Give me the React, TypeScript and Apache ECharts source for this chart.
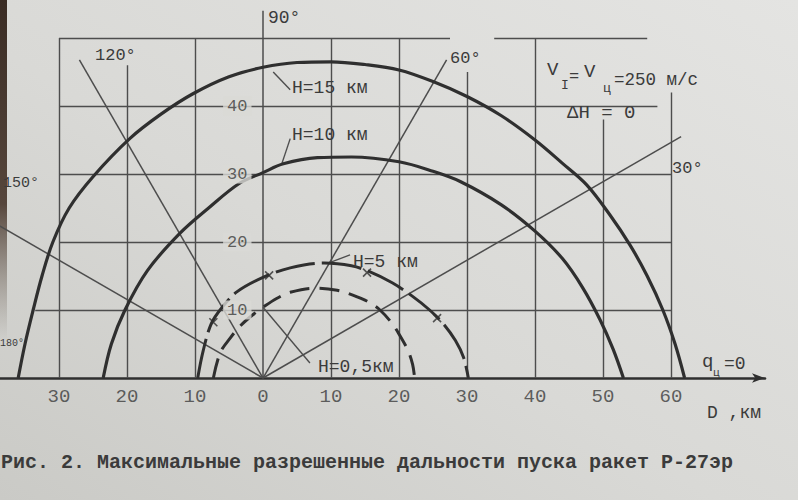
import React, { useEffect, useRef } from "react";
import * as echarts from "echarts";

// Axis ticks (km)
const xTicks = [-30, -20, -10, 0, 10, 20, 30, 40, 50, 60];
const yTicks = [10, 20, 30, 40];

// Launch-range boundaries [D, km ; height of the graph, km]
const h15 = [
  [-36, 0], [-35, 5], [-33.8, 10], [-32.5, 15], [-30.9, 20], [-28.5, 25], [-25, 29.6],
  [-19.6, 35.2], [-15, 38.8], [-10.3, 41.8], [-5, 44.3], [0, 45.7], [5, 46.4], [10, 46.5],
  [15, 46.1], [20, 45.3], [25, 43.6], [30, 41.4], [35, 38.6], [40, 35], [44, 31.6],
  [47.6, 28.4], [51, 24], [54, 19.5], [56.5, 15], [58.8, 10], [60.6, 5], [62, 0],
];
const h10 = [
  [-23.5, 0], [-22.3, 5], [-20.3, 10], [-17, 15.8], [-12.2, 21.3], [-8, 25], [-3.5, 28.6],
  [0, 30.2], [3, 31.5], [8, 32.4], [13, 32.5], [20, 31.8], [25, 30.4], [29, 28.9],
  [35, 25.5], [40, 21.6], [44, 17.6], [47, 13.3], [49.6, 8.5], [51.5, 4.2], [53, 0],
];
const h5 = [
  [-9.6, 0], [-8.8, 4], [-7.6, 8], [-6, 10.4], [-3.8, 12.7], [0, 14.8], [4, 16.2],
  [9, 16.9], [13, 16.5], [15.5, 15.7], [19, 14], [22, 12], [24.5, 10], [26.5, 8],
  [28.3, 5.5], [29.5, 3], [30.2, 0],
];
const h05 = [
  [-7.3, 0], [-6.3, 3.7], [-4.8, 5.9], [-3.4, 7.6], [-1.5, 9.3], [0, 10.4], [2, 11.7],
  [4, 12.6], [7.4, 13.2], [10.9, 12.9], [13.2, 12.2], [15.5, 11.2], [17.2, 10],
  [19, 8], [20.1, 6.3], [21.3, 4.1], [22, 2], [22.3, 0],
];

// Launch-angle rays from the origin: angle (deg) and drawn length (km)
const rayAngles = [30, 60, 90, 120, 150];
const rayLengths = [71, 54, 54, 54, 62];
const rayLabels = ["30°", "60°", "90°", "120°", "150°", "180°"];

// Grid frame: vertical lines (x, top), horizontal lines (y, from, to)
const vGridX = [-30, -20, -10, 10, 20, 30, 40, 50, 60];
const vGridTop = [50, 46, 50, 50, 50, 45, 50, 38, 42];
const hGridY = [10, 20, 30, 40, 50, 50];
const hGridFrom = [-33.5, -30, -30, -30, -30, 34];
const hGridTo = [60, 60, 60, 58, 27.5, 56.5];

// Leader lines from curve labels to the curves
const leaderFrom = [[1.5, 45], [2.8, 31.6], [9.6, 16.9], [0, 10.4]];
const leaderTo = [[4, 42.4], [4, 35.2], [12.8, 18.1], [6.9, 2.2]];

// Small cross marks on the lower boundaries
const crossMarks = [[0.9, 15.1], [15.3, 15.5], [25.6, 8.8], [-7.3, 8.2]];

const W = 798;
const H = 500;
const ORIGIN_X = 263;
const ORIGIN_Y = 378;
const KM = 6.8; // px per km, same on both axes
const GRID_RIGHT = 33;

const PAPER = "#d9d9d6";
const INK = "#2f2f2f";
const GRID_INK = "#4d4d4d";
const TEXT_INK = "#3b3b3b";
const MONO = "'Liberation Mono', 'DejaVu Sans Mono', monospace";

export default function App() {
  const ref = useRef<HTMLDivElement>(null);

  useEffect(() => {
    if (!ref.current) return;
    const chart = echarts.init(ref.current, null, { renderer: "svg" });

    const xMin = -ORIGIN_X / KM;
    const xMax = (W - GRID_RIGHT - ORIGIN_X) / KM;
    const yMax = ORIGIN_Y / KM;
    const yMin = -(H - ORIGIN_Y) / KM;

    const gridSegments = [
      ...vGridX.map((x, i) => ({ coords: [[x, 0], [x, vGridTop[i]]] })),
      ...hGridY.map((y, i) => ({ coords: [[hGridFrom[i], y], [hGridTo[i], y]] })),
    ];
    const raySegments = rayAngles.map((a, i) => {
      const r = (a * Math.PI) / 180;
      return { coords: [[0, 0], [rayLengths[i] * Math.cos(r), rayLengths[i] * Math.sin(r)]] };
    });
    const leaderSegments = leaderFrom.map((p, i) => ({ coords: [p, leaderTo[i]] }));

    const curve = (name: string, data: number[][], type: any, width = 3) => ({
      name,
      type: "line",
      data,
      smooth: 0.35,
      showSymbol: false,
      z: 4,
      lineStyle: { color: INK, width, type, cap: "butt" },
    });

    const txt = (
      text: string,
      x: number,
      y: number,
      size: number,
      align: string = "left",
      extra: any = {}
    ) => ({
      type: "text",
      x,
      y,
      z: 10,
      silent: true,
      style: {
        text,
        fill: TEXT_INK,
        font: `${extra.weight || "normal"} ${size}px ${MONO}`,
        align,
        verticalAlign: "middle",
      },
    });

    chart.setOption({
      animation: false,
      backgroundColor: PAPER,
      grid: {
        left: 0,
        right: GRID_RIGHT,
        top: 0,
        bottom: 0,
        containLabel: false,
        outerBoundsMode: "none",
      },
      xAxis: {
        type: "value",
        min: xMin,
        max: xMax,
        axisLine: {
          onZero: true,
          symbol: ["none", "arrow"],
          symbolSize: [7, 13],
          lineStyle: { color: INK, width: 2.6 },
        },
        axisTick: { show: false },
        splitLine: { show: false },
        axisLabel: { show: false },
      },
      yAxis: {
        type: "value",
        min: yMin,
        max: yMax,
        axisLine: { show: false },
        axisTick: { show: false },
        splitLine: { show: false },
        axisLabel: { show: false },
      },
      graphic: {
        elements: [
          {
            type: "rect",
            z: -20,
            silent: true,
            shape: { x: 0, y: 0, width: W, height: H },
            style: {
              fill: {
                type: "linear",
                x: 1,
                y: 0,
                x2: 0,
                y2: 1,
                colorStops: [
                  { offset: 0, color: "#e4e4e2" },
                  { offset: 0.55, color: "#d9d9d6" },
                  { offset: 1, color: "#cacac6" },
                ],
              },
            },
          },
          {
            type: "rect",
            z: -19,
            silent: true,
            shape: { x: 0, y: 0, width: 7, height: 340 },
            style: {
              fill: {
                type: "linear",
                x: 0,
                y: 0,
                x2: 0,
                y2: 1,
                colorStops: [
                  { offset: 0, color: "#3a2c24" },
                  { offset: 0.6, color: "#56463c" },
                  { offset: 1, color: "rgba(120,110,100,0)" },
                ],
              },
            },
          },
          // ray labels
          txt(rayLabels[2], 268, 18, 18),
          txt(rayLabels[3], 95, 55, 17),
          txt(rayLabels[1], 450, 58, 17),
          txt(rayLabels[0], 672, 168, 17),
          txt(rayLabels[4], 3, 183, 15),
          txt(rayLabels[5], 0, 343, 10),
          // curve labels
          txt("H=15 км", 292, 88, 18),
          txt("H=10 км", 292, 135, 18),
          txt("H=5 км", 353, 262, 18),
          txt("H=0,5км", 318, 367, 18),
          // conditions
          txt("V", 547, 70, 19),
          txt("I", 561, 85, 13),
          txt("=", 569, 76, 17),
          txt("V", 584, 72, 19),
          txt("ц", 603, 88, 13),
          txt("=250 м/с", 614, 80, 17.5),
          txt("ΔH = 0", 567, 113, 19),
          // axis captions
          txt("q", 702, 362, 19),
          txt("ц", 713, 373, 11),
          txt("=0", 724, 364, 18),
          txt("D ,км", 707, 413, 18),
          // figure caption
          txt(
            "Рис. 2. Максимальные разрешенные дальности пуска ракет Р-27эр",
            1,
            462,
            20,
            "left",
            { weight: "bold" }
          ),
        ],
      },
      series: [
        {
          name: "grid",
          type: "lines",
          coordinateSystem: "cartesian2d",
          data: gridSegments,
          z: 2,
          silent: true,
          lineStyle: { color: GRID_INK, width: 1.4, opacity: 1 },
        },
        {
          name: "rays",
          type: "lines",
          coordinateSystem: "cartesian2d",
          data: raySegments,
          z: 3,
          silent: true,
          lineStyle: { color: GRID_INK, width: 1.5, opacity: 1 },
        },
        {
          name: "leaders",
          type: "lines",
          coordinateSystem: "cartesian2d",
          data: leaderSegments,
          z: 3,
          silent: true,
          lineStyle: { color: GRID_INK, width: 1.4, opacity: 1 },
        },
        curve("H=15 км", h15, "solid", 3.2),
        curve("H=10 км", h10, "solid", 3.2),
        curve("H=5 км", h5, [40, 7], 3),
        curve("H=0,5км", h05, [20, 10], 3),
        {
          name: "marks",
          type: "scatter",
          data: crossMarks,
          symbol: "path://M0,0L10,10M10,0L0,10",
          symbolSize: 8,
          z: 5,
          silent: true,
          itemStyle: { color: "none", borderColor: INK, borderWidth: 1.6 },
        },
        {
          name: "x ticks",
          type: "scatter",
          data: xTicks.map((v) => [v, 0]),
          symbolSize: 1,
          z: 6,
          silent: true,
          itemStyle: { color: "rgba(0,0,0,0)" },
          label: {
            show: true,
            position: "bottom",
            distance: 9,
            formatter: (p: any) => String(Math.abs(p.value[0])),
            fontFamily: MONO,
            fontSize: 19,
            color: TEXT_INK,
          },
        },
        {
          name: "y ticks",
          type: "scatter",
          data: yTicks.map((v) => [0, v]),
          symbolSize: 1,
          z: 6,
          silent: true,
          itemStyle: { color: "rgba(0,0,0,0)" },
          label: {
            show: true,
            position: "left",
            distance: 11,
            formatter: (p: any) => String(p.value[1]),
            fontFamily: MONO,
            fontSize: 17,
            color: TEXT_INK,
            backgroundColor: PAPER,
            padding: [1, 4],
          },
        },
      ],
    });

    return () => chart.dispose();
  }, []);

  return (
    <div
      ref={ref}
      style={{ position: "fixed", left: 0, top: 0, width: W, height: H }}
    />
  );
}
